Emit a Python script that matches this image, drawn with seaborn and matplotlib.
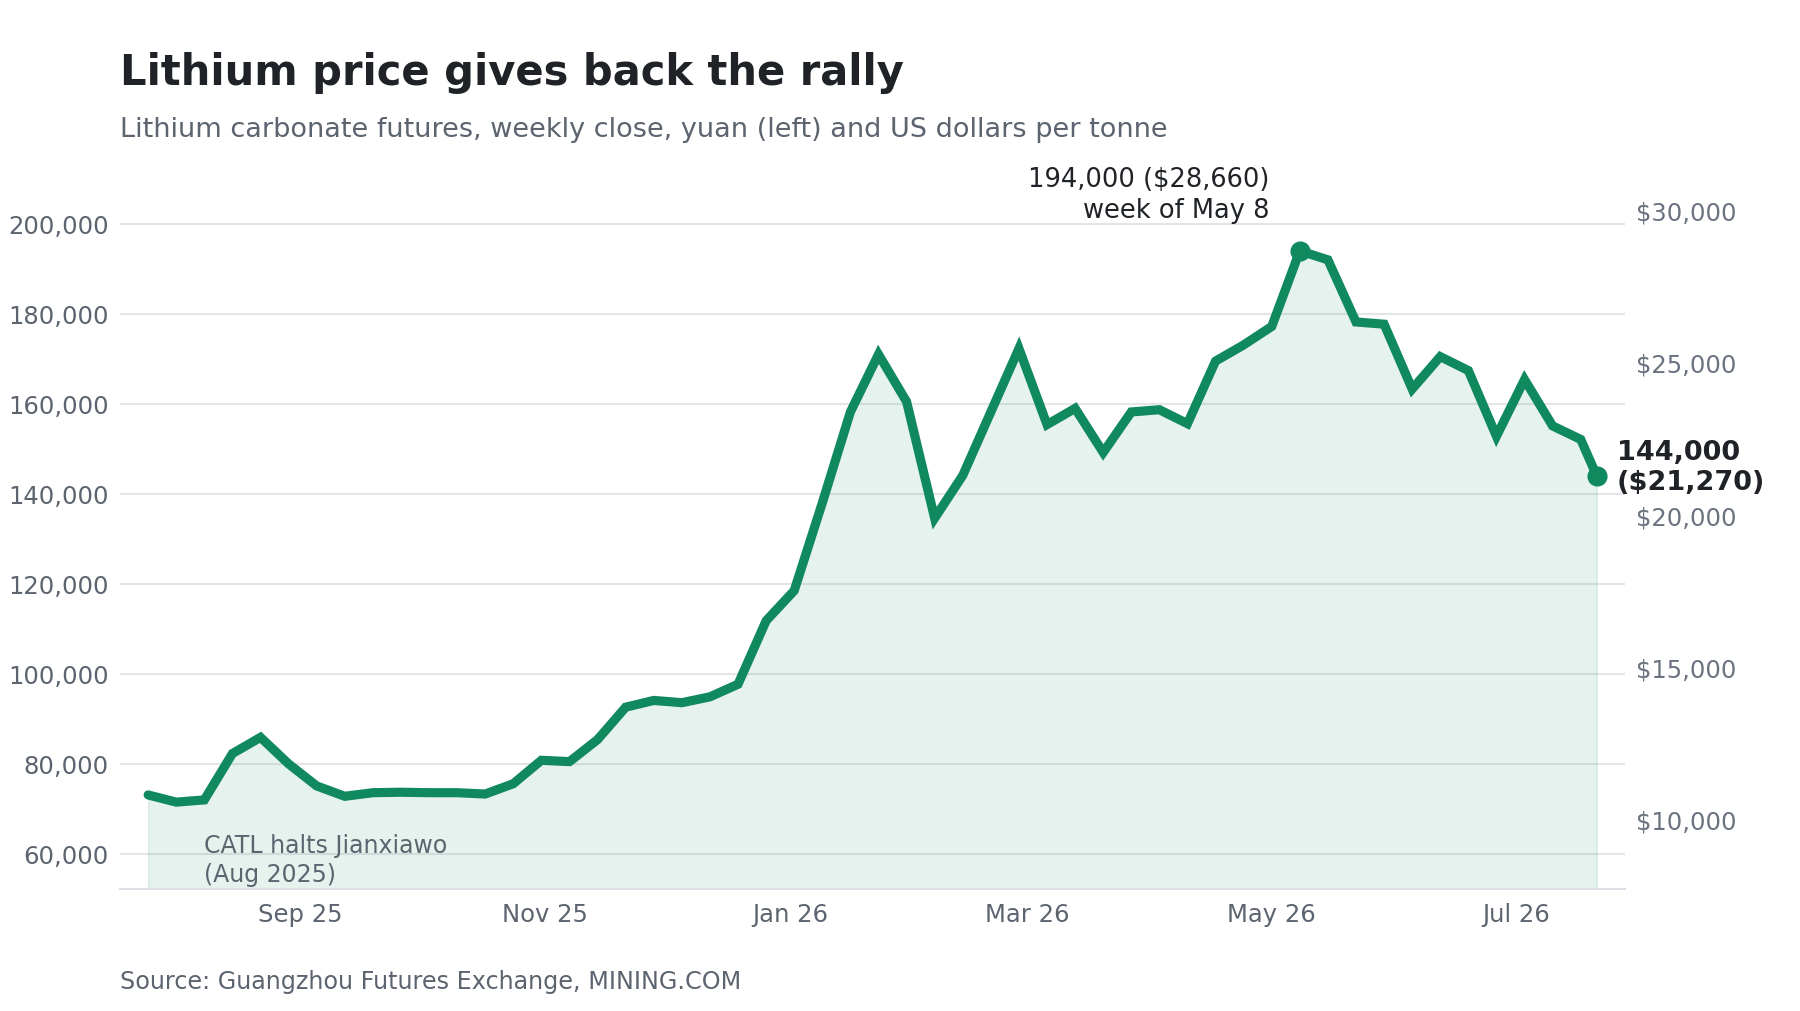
import numpy as np
import pandas as pd
import matplotlib
matplotlib.use("Agg")
import matplotlib.pyplot as plt
import matplotlib.dates as mdates
from matplotlib.ticker import FuncFormatter, FixedLocator
import seaborn as sns

# ---------------- data ----------------
week_start = "2025-07-25"
n_weeks = 52
last_date = "2026-07-21"
price_yuan = [73100, 71500, 72000, 82300, 85900, 80000, 75100, 72800, 73600, 73700,
              73600, 73600, 73300, 75600, 80800, 80500, 85400, 92600, 94100, 93600,
              94900, 97700, 111800, 118500, 138000, 158200, 171000, 160500, 134600, 144100,
              158200, 172300, 155400, 159000, 149200, 158200, 158700, 155600, 169500, 173100,
              177200, 194000, 192000, 178200, 177700, 163300, 170500, 167400, 152800, 165400,
              155100, 152100, 144000]
usd_rate = 194000 / 28660  # yuan per US dollar implied by the chart
left_ticks = [60000, 80000, 100000, 120000, 140000, 160000, 180000, 200000]
right_ticks = [10000, 15000, 20000, 25000, 30000]
month_ticks = ["2025-09-01", "2025-11-01", "2026-01-01", "2026-03-01", "2026-05-01", "2026-07-01"]

title = "Lithium price gives back the rally"
subtitle = "Lithium carbonate futures, weekly close, yuan (left) and US dollars per tonne"
source = "Source: Guangzhou Futures Exchange, MINING.COM"
peak_label = "194,000 ($28,660)\nweek of May 8"
end_label = "144,000\n($21,270)"
event_label = "CATL halts Jianxiawo\n(Aug 2025)"

dates = list(pd.date_range(week_start, periods=n_weeks, freq="7D")) + [pd.Timestamp(last_date)]
df = pd.DataFrame({"date": dates, "price": price_yuan})

# ---------------- style ----------------
sns.set_theme(style="white")
plt.rcParams["font.family"] = ["DejaVu Sans"]

GREEN = "#10895f"
TICK = "#5c6470"
RTICK = "#6b7280"
GRID = "#e3e5e8"
DARK = "#1f2226"

fig = plt.figure(figsize=(18, 10.12), dpi=100)
ax = fig.add_axes([0.0667, 0.121, 0.836, 0.6746])

ax.fill_between(df["date"], df["price"], 52300, color=GREEN, alpha=0.10, linewidth=1.2, zorder=1)
sns.lineplot(data=df, x="date", y="price", ax=ax, color=GREEN, linewidth=6.6, zorder=3,
             solid_joinstyle="miter", solid_capstyle="round")

peak_i = int(np.argmax(price_yuan))
ax.plot([dates[peak_i]], [price_yuan[peak_i]], "o", color=GREEN, markersize=13.5, zorder=4)
ax.plot([dates[-1]], [price_yuan[-1]], "o", color=GREEN, markersize=13.5, zorder=4, clip_on=False)

ax.set_xlim(pd.Timestamp("2025-07-18"), pd.Timestamp("2026-07-28"))
ax.set_ylim(52300, 204000)
ax.yaxis.set_major_locator(FixedLocator(left_ticks))
ax.yaxis.set_major_formatter(FuncFormatter(lambda v, p: f"{int(v):,}"))
ax.xaxis.set_major_locator(FixedLocator([mdates.date2num(pd.Timestamp(d)) for d in month_ticks]))
ax.xaxis.set_major_formatter(mdates.DateFormatter("%b %y"))
ax.set_xlabel("")
ax.set_ylabel("")
ax.grid(axis="y", color=GRID, linewidth=1.5, zorder=0)
ax.grid(axis="x", visible=False)
for s in ["left", "right", "top"]:
    ax.spines[s].set_visible(False)
ax.spines["bottom"].set_color("#dcdfe3")
ax.spines["bottom"].set_linewidth(1.5)
ax.tick_params(axis="y", length=0, pad=8, labelsize=17.5, labelcolor=TICK)
ax.tick_params(axis="x", length=0, pad=10, labelsize=17.5, labelcolor=TICK)

# right axis in US dollars
ax2 = ax.twinx()
lo, hi = ax.get_ylim()
ax2.set_ylim(lo / usd_rate, hi / usd_rate)
ax2.yaxis.set_major_locator(FixedLocator(right_ticks))
ax2.yaxis.set_major_formatter(FuncFormatter(lambda v, p: f"${int(v):,}"))
ax2.tick_params(axis="y", length=0, pad=8, labelsize=17.5, labelcolor=RTICK)
for s in ["left", "right", "top", "bottom"]:
    ax2.spines[s].set_visible(False)
ax2.grid(False)

# annotations
ax.text(dates[peak_i] - pd.Timedelta(days=7.5), 200300, peak_label, ha="right", va="bottom",
        fontsize=18.5, color=DARK, linespacing=1.25)
ax.text(dates[-1] + pd.Timedelta(days=5), 146000, end_label, ha="left", va="center",
        fontsize=19.5, fontweight="bold", color=DARK, linespacing=1.2)
ax.text(dates[2], 58700, event_label, ha="left", va="center",
        fontsize=17, color=TICK, linespacing=1.25)

fig.text(0.0667, 0.928, title, ha="left", va="center", fontsize=30, fontweight="bold", color=DARK)
fig.text(0.0667, 0.872, subtitle, ha="left", va="center", fontsize=19.5, color=TICK)
fig.text(0.0667, 0.0296, source, ha="left", va="center", fontsize=17.2, color=TICK)

fig.savefig("out.png", dpi=100, facecolor="white")
